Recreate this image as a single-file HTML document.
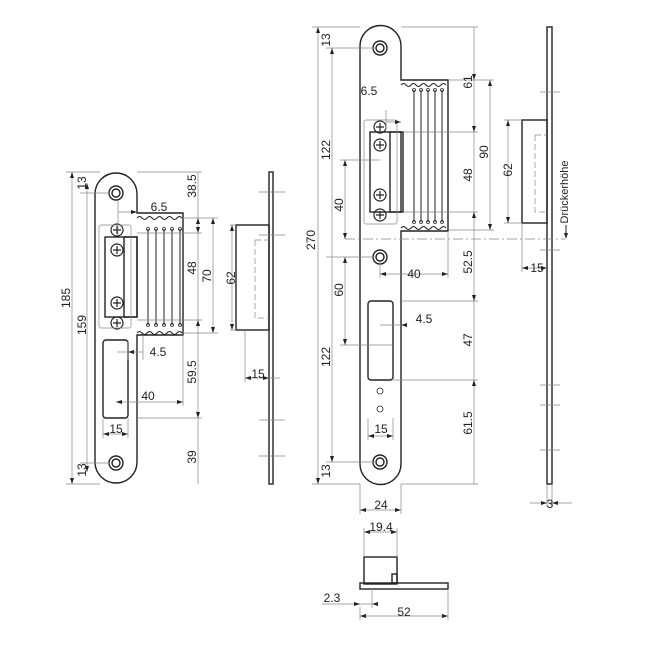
<!DOCTYPE html><html><head><style>body{margin:0;background:#fff}svg{display:block}text{font-family:"Liberation Sans",sans-serif;font-size:12px;fill:#222}</style></head><body>
<svg width="650" height="650" viewBox="0 0 650 650" xmlns="http://www.w3.org/2000/svg">
<g fill="none" stroke="#222" stroke-width="1.4">
<path d="M95,194 A21,21 0 0 1 137,194 V213 H183 V335 H137 V462 A21,21 0 0 1 95,462 Z"/>
<circle cx="116" cy="193" r="7"/><circle cx="116" cy="193" r="4"/>
<circle cx="116" cy="463" r="7"/><circle cx="116" cy="463" r="4"/>
<rect x="103" y="340" width="25" height="78" rx="3"/>
<rect x="105" y="237" width="32" height="80"/><rect x="124" y="237" width="13" height="80"/>
<path d="M360,46 A20.5,20.5 0 0 1 401,46 V80 H448 V231 H401 V464 A20.5,20.5 0 0 1 360,464 Z"/>
<circle cx="380" cy="48" r="7"/><circle cx="380" cy="48" r="4"/>
<circle cx="380" cy="257" r="7"/><circle cx="380" cy="257" r="4"/>
<circle cx="380" cy="462" r="7"/><circle cx="380" cy="462" r="4"/>
<rect x="368" y="301" width="25" height="79" rx="3"/>
<rect x="370" y="132" width="31" height="80"/><rect x="390" y="132" width="13" height="80"/>
<rect x="269" y="172" width="4" height="312"/>
<rect x="236" y="225" width="33" height="105"/>
<rect x="547" y="27" width="5" height="457"/>
<rect x="522" y="120" width="25" height="103"/>
<rect x="364" y="557" width="33" height="27"/>
<rect x="360" y="583" width="88" height="6"/>
<rect x="392" y="574" width="5" height="9"/>
</g>
<g fill="none" stroke="#222" stroke-width="1">
<path d="M137,218 q2.5,-3 5,0 t5,0 t5,0 t5,0 t5,0 t5,0 t5,0 t5,0 t5,0 M137,333 q2.5,-3 5,0 t5,0 t5,0 t5,0 t5,0 t5,0 t5,0 t5,0 t5,0"/>
<path d="M401,85 q2.5,-3 5,0 t5,0 t5,0 t5,0 t5,0 t5,0 t5,0 t5,0 t5,0 M401,228 q2.5,-3 5,0 t5,0 t5,0 t5,0 t5,0 t5,0 t5,0 t5,0 t5,0"/>
<path d="M148,229V325M156,229V325M164,229V325M172,229V325M180,229V325"/>
<path d="M414,90V222M421,90V222M428,90V222M435,90V222M442,90V222"/>
<g stroke-width="0.8"><circle cx="148" cy="229" r="1.5"/><circle cx="156" cy="229" r="1.5"/><circle cx="164" cy="229" r="1.5"/><circle cx="172" cy="229" r="1.5"/><circle cx="180" cy="229" r="1.5"/>
<circle cx="148" cy="325" r="1.5"/><circle cx="156" cy="325" r="1.5"/><circle cx="164" cy="325" r="1.5"/><circle cx="172" cy="325" r="1.5"/><circle cx="180" cy="325" r="1.5"/>
<circle cx="414" cy="90" r="1.5"/><circle cx="421" cy="90" r="1.5"/><circle cx="428" cy="90" r="1.5"/><circle cx="435" cy="90" r="1.5"/><circle cx="442" cy="90" r="1.5"/>
<circle cx="414" cy="222" r="1.5"/><circle cx="421" cy="222" r="1.5"/><circle cx="428" cy="222" r="1.5"/><circle cx="435" cy="222" r="1.5"/><circle cx="442" cy="222" r="1.5"/>
<circle cx="380" cy="391" r="3"/><circle cx="380" cy="409" r="3"/></g>
<g stroke-width="1.2">
<circle cx="117" cy="230" r="6"/><circle cx="117" cy="250" r="6"/><circle cx="117" cy="303" r="6"/><circle cx="117" cy="323" r="6"/>
<circle cx="380" cy="127" r="6"/><circle cx="380" cy="145" r="6"/><circle cx="380" cy="195" r="6"/><circle cx="380" cy="215" r="6"/>
<path d="M113,230h8M117,226v8M113,250h8M117,246v8M113,303h8M117,299v8M113,323h8M117,319v8M376,127h8M380,123v8M376,145h8M380,141v8M376,195h8M380,191v8M376,215h8M380,211v8"/>
</g>
</g>
<g fill="none" stroke="#888" stroke-width="0.7">
<rect x="99" y="225" width="32" height="103" rx="2"/><rect x="364" y="120" width="33" height="104" rx="2"/>
<path stroke-dasharray="6,3" d="M255,240H269M255,240V318H269M535,135H547M535,135V212H547"/>
<path stroke-dasharray="10,3,2,3" d="M345,239H565"/>
<path d="M72,172V484M87,183V472M66,172H100M66,484H100M80,193H110M80,463H110"/>
<path d="M198,172V484M213,218V333M137,172H202M183,218H218M137,233H202M137,320H202M183,333H218M137,418H202M116,402H183M183,335V406M103,434H128M103,418V438M128,418V438M118,212H137M118,200V235M117,352H143M128,340V360M143,335V360"/>
<path d="M245,378H280M245,330V382M232,225V330M236,225H230M236,330H230"/>
<path d="M259,192H285M259,456H285M259,235H285M259,420H285"/>
<path d="M318,27V484M332,48V462M312,27H360M312,484H360M326,48H375M326,257H375M326,462H375M345,160V239M345,257V345M340,160H380M340,345H393"/>
<path d="M474,27V484M490,80V230M401,27H478M448,80H494M403,132H478M403,212H478M448,230H494M401,301H478M393,380H478M401,484H478M380,274H448M380,262V278M448,231V278M386,122H401M386,110V130M380,325H401"/>
<path d="M368,436H393M368,418V440M393,418V440M360,484V514M401,484V514M360,510H401M364,532H397M364,528V557M397,528V557M360,607V620M448,589V620M360,616H448M322,604H372M372,589V608"/>
<path d="M522,223V272M522,268H547M508,120V223M504,120H522M504,223H522M547,484V507M552,484V507M530,503H572M540,92H560M540,250H560M540,385H560M540,405H560M540,450H560"/>
</g>
<g fill="#222">
<path d="M72,172l-2,6h4zM72,484l-2,-6h4zM87,183l-2,6h4zM87,472l-2,-6h4zM198,218l-2,6h4zM198,233l-2,-6h4zM198,320l-2,6h4zM198,418l-2,-6h4zM213,218l-2,6h4zM213,333l-2,-6h4zM183,402l-6,-2v4zM116,402l6,-2v4zM103,434l6,-2v4zM128,434l-6,-2v4zM137,212l-6,-2v4zM128,352l6,-2v4zM245,378l6,-2v4zM269,378l-6,-2v4zM232,225l-2,6h4zM232,330l-2,-6h4z"/>
<path d="M318,27l-2,6h4zM318,484l-2,-6h4zM332,48l-2,6h4zM332,462l-2,-6h4zM345,160l-2,6h4zM345,239l-2,-6h4zM345,257l-2,6h4zM345,345l-2,-6h4zM474,80l-2,-6h4zM474,132l-2,-6h4zM474,212l-2,6h4zM474,301l-2,-6h4zM474,380l-2,6h4zM490,80l-2,6h4zM490,230l-2,-6h4zM380,274l6,-2v4zM448,274l-6,-2v4zM360,510l6,-2v4zM401,510l-6,-2v4zM364,532l6,-2v4zM397,532l-6,-2v4zM360,616l6,-2v4zM448,616l-6,-2v4zM360,604l-6,-2v4zM372,604l6,-2v4zM368,436l6,-2v4zM393,436l-6,-2v4zM401,325l6,-2v4zM401,122l-6,-2v4zM508,120l-2,6h4zM508,223l-2,-6h4zM522,268l6,-2v4zM547,268l-6,-2v4zM547,503l-6,-2v4zM552,503l6,-2v4zM566,239l-2,-6h4z"/>
<path d="M566,225V233" stroke="#222" stroke-width="1"/>
</g>
<g>
<text transform="translate(70,298) rotate(-90)" text-anchor="middle">185</text>
<text transform="translate(86,325) rotate(-90)" text-anchor="middle">159</text>
<text transform="translate(86,183) rotate(-90)" text-anchor="middle">13</text>
<text transform="translate(86,470) rotate(-90)" text-anchor="middle">13</text>
<text transform="translate(196,186) rotate(-90)" text-anchor="middle">38.5</text>
<text transform="translate(196,268) rotate(-90)" text-anchor="middle">48</text>
<text transform="translate(196,372) rotate(-90)" text-anchor="middle">59.5</text>
<text transform="translate(196,457) rotate(-90)" text-anchor="middle">39</text>
<text transform="translate(211,276) rotate(-90)" text-anchor="middle">70</text>
<text transform="translate(235,278) rotate(-90)" text-anchor="middle">62</text>
<text x="159" y="211" text-anchor="middle">6.5</text>
<text x="158" y="356" text-anchor="middle">4.5</text>
<text x="148" y="400" text-anchor="middle">40</text>
<text x="116" y="433" text-anchor="middle">15</text>
<text x="258" y="378" text-anchor="middle">15</text>
<text transform="translate(315,240) rotate(-90)" text-anchor="middle">270</text>
<text transform="translate(330,150) rotate(-90)" text-anchor="middle">122</text>
<text transform="translate(330,357) rotate(-90)" text-anchor="middle">122</text>
<text transform="translate(330,40) rotate(-90)" text-anchor="middle">13</text>
<text transform="translate(330,471) rotate(-90)" text-anchor="middle">13</text>
<text transform="translate(343,205) rotate(-90)" text-anchor="middle">40</text>
<text transform="translate(343,290) rotate(-90)" text-anchor="middle">60</text>
<text transform="translate(472,82) rotate(-90)" text-anchor="middle">61</text>
<text transform="translate(472,175) rotate(-90)" text-anchor="middle">48</text>
<text transform="translate(472,262) rotate(-90)" text-anchor="middle">52.5</text>
<text transform="translate(472,340) rotate(-90)" text-anchor="middle">47</text>
<text transform="translate(472,423) rotate(-90)" text-anchor="middle">61.5</text>
<text transform="translate(488,152) rotate(-90)" text-anchor="middle">90</text>
<text transform="translate(512,170) rotate(-90)" text-anchor="middle">62</text>
<text transform="translate(568,192) rotate(-90)" text-anchor="middle" style="font-size:11px">Drückerhöhe</text>
<text x="369" y="95" text-anchor="middle">6.5</text>
<text x="424" y="323" text-anchor="middle">4.5</text>
<text x="414" y="278" text-anchor="middle">40</text>
<text x="381" y="433" text-anchor="middle">15</text>
<text x="381" y="509" text-anchor="middle">24</text>
<text x="381" y="531" text-anchor="middle">19.4</text>
<text x="332" y="602" text-anchor="middle">2.3</text>
<text x="404" y="616" text-anchor="middle">52</text>
<text x="537" y="272" text-anchor="middle">15</text>
<text x="550" y="508" text-anchor="middle">3</text>
</g>
</svg></body></html>
